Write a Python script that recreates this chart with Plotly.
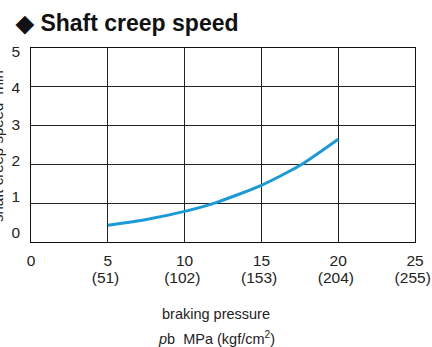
import plotly.graph_objects as go

# Braking pressure (MPa) and shaft creep speed (min^-1)
pressure = [5, 7.5, 10, 12, 15, 17.5, 20]
creep_speed = [0.43, 0.58, 0.79, 1.01, 1.46, 1.97, 2.65]

x_ticks = [0, 5, 10, 15, 20, 25]
x_tick_mpa = ["0", "5", "10", "15", "20", "25"]
x_tick_kgf = ["", "(51)", "(102)", "(153)", "(204)", "(255)"]
y_ticks = [0, 1, 2, 3, 4, 5]
y_tick_text = ["0", "1", "2", "3", "4", "5"]

W, H = 432, 347
ml, mr, mt, mb = 31, 17, 48, 105
PW, PH = W - ml - mr, H - mt - mb

font_family = "Liberation Sans, Arial, Helvetica, sans-serif"
tick_font = dict(family=font_family, size=15.5, color="#222")


def px_x(p):
    """figure pixel x -> paper coordinate"""
    return (p - ml) / PW


def px_y(p):
    """figure pixel y (from top) -> paper coordinate"""
    return (H - mb - p) / PH


fig = go.Figure()
fig.add_trace(go.Scatter(
    x=pressure, y=creep_speed, mode="lines",
    line=dict(color="#1a9ad8", width=3, shape="spline", smoothing=0.6),
    hoverinfo="skip", showlegend=False,
))
# invisible trace on the label axes so the kgf/cm2 and speed labels render
fig.add_trace(go.Scatter(
    x=[0, 25], y=[0, 0], xaxis="x2", yaxis="y2", mode="none",
    hoverinfo="skip", showlegend=False,
))

axis_common = dict(
    showgrid=True, gridcolor="#222", gridwidth=1,
    showline=True, linecolor="#111", linewidth=1.2, mirror=True,
    zeroline=False, ticks="", automargin=False, tickfont=tick_font,
    ticklabeloverflow="allow",
)
label_axis = dict(showgrid=False, showline=False, zeroline=False, ticks="",
                  automargin=False, tickfont=tick_font,
                  ticklabeloverflow="allow")

fig.update_layout(
    width=W, height=H,
    margin=dict(l=ml, r=mr, t=mt, b=mb, autoexpand=False),
    paper_bgcolor="white", plot_bgcolor="white",
    font=dict(family=font_family, color="#222"),
    xaxis=dict(range=[0, 25], tickvals=x_ticks, ticktext=x_tick_mpa,
               ticklabelstandoff=4, **axis_common),
    xaxis2=dict(range=[0.15, 25.15], overlaying="x", side="bottom",
                tickvals=x_ticks, ticktext=x_tick_kgf, ticklabelstandoff=24,
                **label_axis),
    yaxis=dict(range=[0, 5], tickvals=y_ticks, showticklabels=False,
               **axis_common),
    # speed labels sit on a slightly compressed scale beside the grid
    yaxis2=dict(range=[-0.27, 5.11], overlaying="y", side="left",
                tickvals=y_ticks, ticktext=y_tick_text, ticklabelstandoff=10,
                **label_axis),
    annotations=[
        dict(text="<b>◆ Shaft creep speed</b>", xref="paper", yref="paper",
             x=px_x(13), y=px_y(23),
             xanchor="left", yanchor="middle", showarrow=False,
             font=dict(family=font_family, size=23, color="#111")),
        dict(text="shaft creep speed  min<sup>-1</sup>", xref="paper", yref="paper",
             x=px_x(-4), y=px_y(142),
             xanchor="center", yanchor="middle", textangle=-90, showarrow=False,
             font=dict(family=font_family, size=15, color="#222")),
        dict(text="braking pressure", xref="paper", yref="paper",
             x=px_x(216), y=px_y(314),
             xanchor="center", yanchor="middle", showarrow=False,
             font=dict(family=font_family, size=14.5, color="#222")),
        dict(text="<i>p</i>b  MPa (kgf/cm<sup>2</sup>)", xref="paper", yref="paper",
             x=px_x(216), y=px_y(338),
             xanchor="center", yanchor="middle", showarrow=False,
             font=dict(family=font_family, size=14.5, color="#222")),
    ],
)

fig.write_html("out.html")
